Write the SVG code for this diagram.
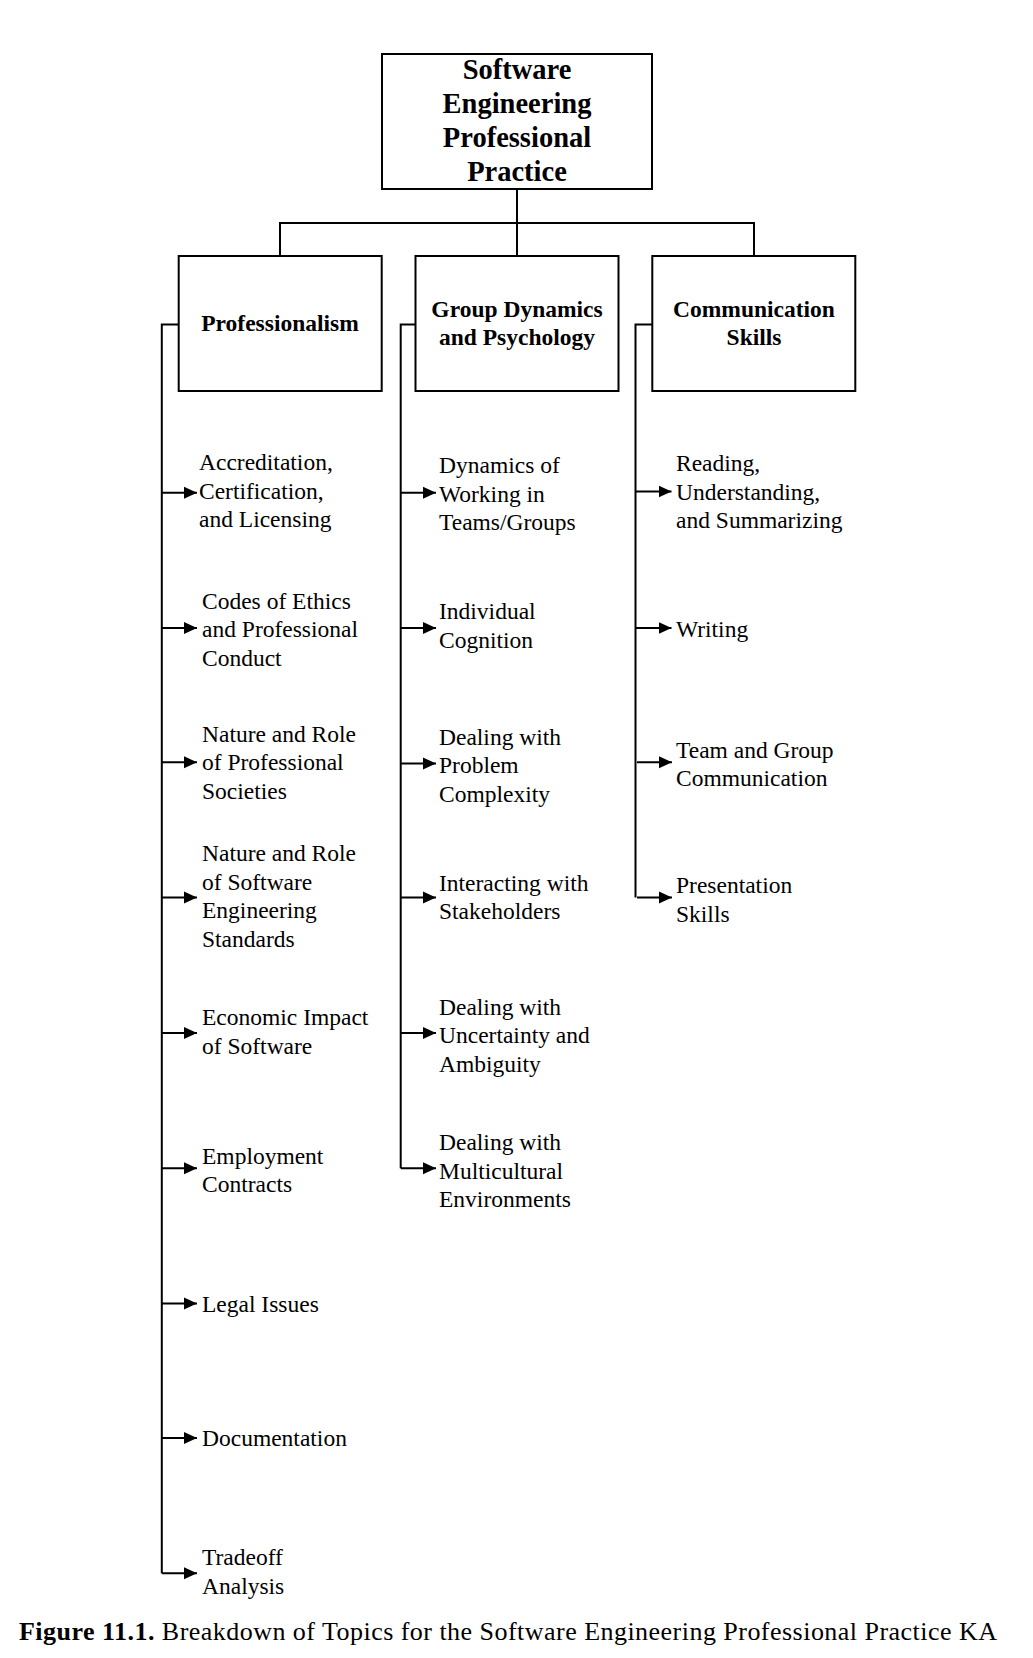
<svg xmlns="http://www.w3.org/2000/svg" width="1033" height="1658" viewBox="0 0 1033 1658">
<style>
.box{fill:#fff;stroke:#000;stroke-width:2}
.ln{fill:none;stroke:#000;stroke-width:2}
.tb{font-family:"Liberation Serif","Times New Roman",serif;font-weight:bold;fill:#000;text-anchor:middle}
.t{font-family:"Liberation Serif","Times New Roman",serif;font-size:23.5px;fill:#000}
</style>
<defs>
<marker id="ah" markerWidth="14" markerHeight="13" refX="13" refY="6.5" orient="auto" markerUnits="userSpaceOnUse"><path d="M0,0.5 L13,6.5 L0,12.5 z" fill="#000"/></marker>
</defs>
<rect width="1033" height="1658" fill="#fff"/>
<g id="connectors">
<path class="ln" d="M517,189 V223 M280,256 V223 H754 V256 M517,223 V256"/>
<path class="ln" d="M178.7,324.6 H161.8 V1573.3"/>
<path class="ln" d="M415.5,324.6 H400.7 V1168.3"/>
<path class="ln" d="M652.3,324.6 H635.5 V897.6"/>
<g class="ln" marker-end="url(#ah)">
<line x1="161.8" y1="492.7" x2="197" y2="492.7"/>
<line x1="161.8" y1="628" x2="197" y2="628"/>
<line x1="161.8" y1="762.3" x2="197" y2="762.3"/>
<line x1="161.8" y1="897.6" x2="197" y2="897.6"/>
<line x1="161.8" y1="1033" x2="197" y2="1033"/>
<line x1="161.8" y1="1168.3" x2="197" y2="1168.3"/>
<line x1="161.8" y1="1303.6" x2="197" y2="1303.6"/>
<line x1="161.8" y1="1437.9" x2="197" y2="1437.9"/>
<line x1="161.8" y1="1573.3" x2="197" y2="1573.3"/>
<line x1="400.7" y1="492.7" x2="436" y2="492.7"/>
<line x1="400.7" y1="628" x2="436" y2="628"/>
<line x1="400.7" y1="763.4" x2="436" y2="763.4"/>
<line x1="400.7" y1="897.6" x2="436" y2="897.6"/>
<line x1="400.7" y1="1033" x2="436" y2="1033"/>
<line x1="400.7" y1="1168.3" x2="436" y2="1168.3"/>
<line x1="635.5" y1="491.6" x2="671.5" y2="491.6"/>
<line x1="635.5" y1="628" x2="671.5" y2="628"/>
<line x1="637" y1="762.3" x2="672" y2="762.3"/>
<line x1="637" y1="897.6" x2="672" y2="897.6"/>
</g>
</g>
<g id="root">
<rect class="box" x="382" y="54" width="270" height="135"/>
<text class="tb" font-size="28.5" x="517" y="79.3">Software<tspan x="517" dy="33.8">Engineering</tspan><tspan x="517" dy="33.8">Professional</tspan><tspan x="517" dy="33.8">Practice</tspan></text>
</g>
<g id="professionalism">
<rect class="box" x="178.7" y="256" width="203" height="135"/>
<text class="tb" font-size="23.5" x="280" y="331">Professionalism</text>
</g>
<g id="group-dynamics">
<rect class="box" x="415.5" y="256" width="203" height="135"/>
<text class="tb" font-size="23.5" x="517" y="317">Group Dynamics<tspan x="517" dy="28.3">and Psychology</tspan></text>
</g>
<g id="communication">
<rect class="box" x="652.3" y="256" width="203" height="135"/>
<text class="tb" font-size="23.5" x="754" y="317">Communication<tspan x="754" dy="28.3">Skills</tspan></text>
</g>
<g id="p1"><text class="t" x="199" y="470">Accreditation,<tspan x="199" dy="28.6">Certification,</tspan><tspan x="199" dy="28.6">and Licensing</tspan></text></g>
<g id="p2"><text class="t" x="202" y="608.5">Codes of Ethics<tspan x="202" dy="28.6">and Professional</tspan><tspan x="202" dy="28.6">Conduct</tspan></text></g>
<g id="p3"><text class="t" x="202" y="741.8">Nature and Role<tspan x="202" dy="28.6">of Professional</tspan><tspan x="202" dy="28.6">Societies</tspan></text></g>
<g id="p4"><text class="t" x="202" y="861.2">Nature and Role<tspan x="202" dy="28.6">of Software</tspan><tspan x="202" dy="28.6">Engineering</tspan><tspan x="202" dy="28.6">Standards</tspan></text></g>
<g id="p5"><text class="t" x="202" y="1025.1">Economic Impact<tspan x="202" dy="28.6">of Software</tspan></text></g>
<g id="p6"><text class="t" x="202" y="1163.6">Employment<tspan x="202" dy="28.6">Contracts</tspan></text></g>
<g id="p7"><text class="t" x="202" y="1311.6">Legal Issues</text></g>
<g id="p8"><text class="t" x="202" y="1445.9">Documentation</text></g>
<g id="p9"><text class="t" x="202" y="1565.4">Tradeoff<tspan x="202" dy="28.6">Analysis</tspan></text></g>
<g id="g1"><text class="t" x="439" y="473.2">Dynamics of<tspan x="439" dy="28.6">Working in</tspan><tspan x="439" dy="28.6">Teams/Groups</tspan></text></g>
<g id="g2"><text class="t" x="439" y="619.1">Individual<tspan x="439" dy="28.6">Cognition</tspan></text></g>
<g id="g3"><text class="t" x="439" y="744.9">Dealing with<tspan x="439" dy="28.1">Problem</tspan><tspan x="439" dy="28.6">Complexity</tspan></text></g>
<g id="g4"><text class="t" x="439" y="890.8">Interacting with<tspan x="439" dy="28.6">Stakeholders</tspan></text></g>
<g id="g5"><text class="t" x="439" y="1014.5">Dealing with<tspan x="439" dy="28.6">Uncertainty and</tspan><tspan x="439" dy="28.6">Ambiguity</tspan></text></g>
<g id="g6"><text class="t" x="439" y="1149.9">Dealing with<tspan x="439" dy="28.6">Multicultural</tspan><tspan x="439" dy="28.6">Environments</tspan></text></g>
<g id="c1"><text class="t" x="676" y="471.1">Reading,<tspan x="676" dy="28.6">Understanding,</tspan><tspan x="676" dy="28.6">and Summarizing</tspan></text></g>
<g id="c2"><text class="t" x="676" y="637.1">Writing</text></g>
<g id="c3"><text class="t" x="676" y="757.6">Team and Group<tspan x="676" dy="28.6">Communication</tspan></text></g>
<g id="c4"><text class="t" x="676" y="893">Presentation<tspan x="676" dy="28.6">Skills</tspan></text></g>
<g id="caption"><text x="19" y="1640" font-family="'Liberation Serif','Times New Roman',serif" font-size="26" textLength="978" lengthAdjust="spacing"><tspan font-weight="bold">Figure 11.1.</tspan> Breakdown of Topics for the Software Engineering Professional Practice KA</text></g>
</svg>
